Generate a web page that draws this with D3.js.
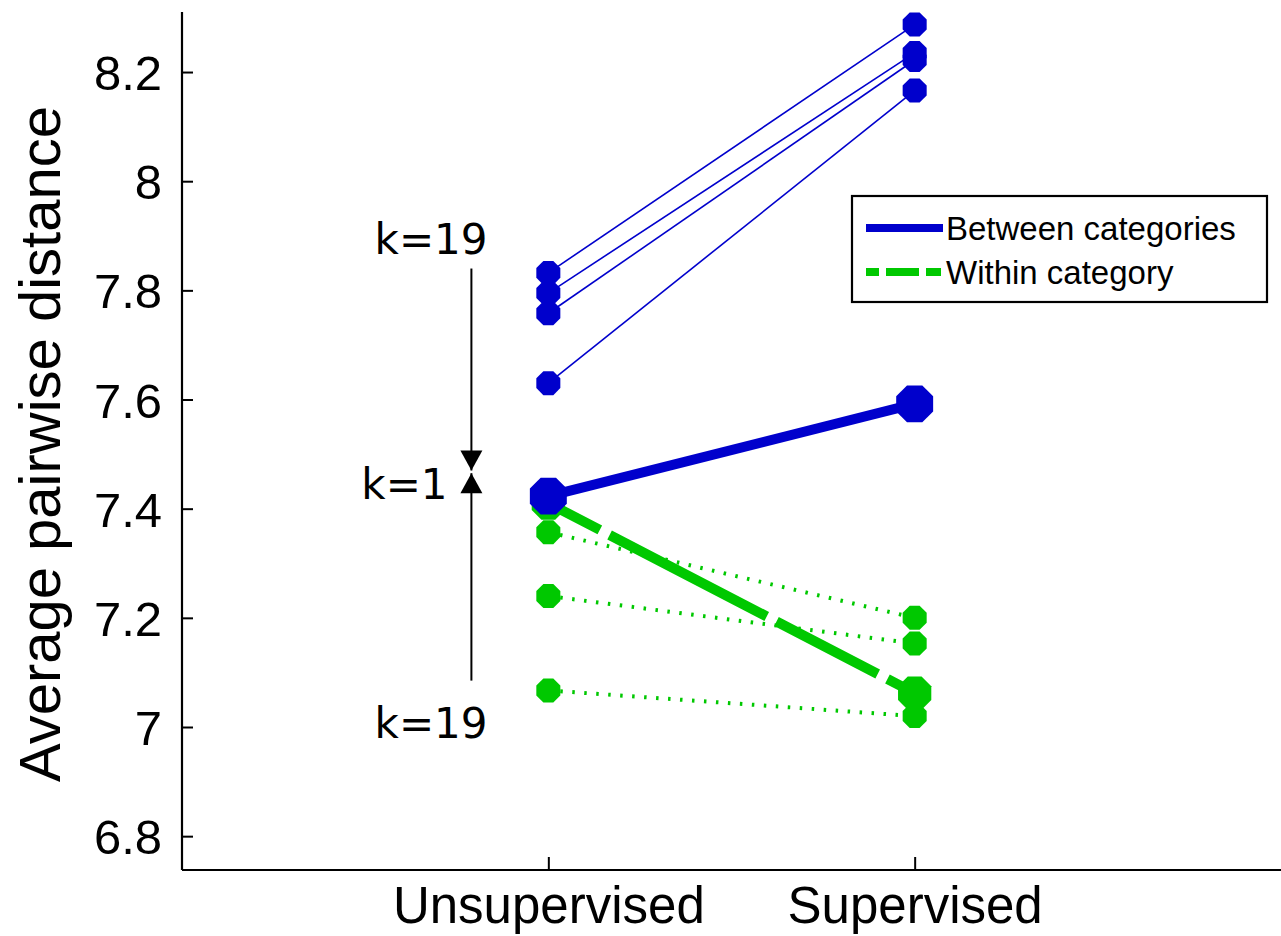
<!DOCTYPE html>
<html><head><meta charset="utf-8">
<script src="https://cdn.jsdelivr.net/npm/d3@7"></script>
<style>html,body{margin:0;padding:0;background:#fff;}</style>
</head><body>
<svg id="chart" width="1281" height="936"></svg>
<script>
// ---- data ----
const categories = ["Unsupervised", "Supervised"];
const categoryX = [1, 2];
const yTicks = [6.8, 7, 7.2, 7.4, 7.6, 7.8, 8, 8.2];
const yTickLabels = ["6.8", "7", "7.2", "7.4", "7.6", "7.8", "8", "8.2"];
// Between categories, individual k (unsupervised, supervised)
const betweenUnsup = [7.832, 7.795, 7.758, 7.630];
const betweenSup   = [8.287, 8.235, 8.222, 8.166];
const betweenMean  = [7.423, 7.592];
// Within category, individual k
const withinUnsup = [7.357, 7.240, 7.067];
const withinSup   = [7.200, 7.153, 7.020];
const withinMean  = [7.410, 7.062];
const legendLabels = ["Between categories", "Within category"];
const kLabels = ["k=19", "k=1", "k=19"];
const kLabelValues = [7.895, 7.445, 7.008];
const arrowTop = [7.84, 7.47];
const arrowBottom = [7.085, 7.465];
const arrowX = 0.79;

const blue = "#0000cc", green = "#00c800";
const svg = d3.select("#chart");
const x = d3.scaleLinear().domain([0, 3]).range([182, 1281]);
const y = d3.scaleLinear().domain([6.738, 8.31]).range([870, 12]);

// octagon path
function octagon(r) {
  const pts = d3.range(8).map(i => {
    const a = Math.PI / 8 + i * Math.PI / 4;
    return [r * Math.cos(a), r * Math.sin(a)];
  });
  return "M" + pts.map(p => p.join(",")).join("L") + "Z";
}

// axes
const yAxis = d3.axisLeft(y).tickValues(yTicks).tickFormat((d, i) => yTickLabels[i]).tickSize(-11).tickPadding(20);
const gy = svg.append("g").attr("transform", `translate(${x(0)},0)`).call(yAxis);
gy.select(".domain").attr("d", `M0,${y.range()[1]}V${y.range()[0]}`).attr("stroke", "#000").attr("stroke-width", 2.2);
gy.selectAll(".tick line").attr("stroke", "#000").attr("stroke-width", 2);
gy.selectAll(".tick text").attr("font-family", "Liberation Sans, Arial, sans-serif").attr("font-size", 49).attr("fill", "#000").attr("dy", "0.36em");

const xAxis = d3.axisBottom(x).tickValues(categoryX).tickFormat((d, i) => categories[i]).tickSize(-13).tickPadding(17);
const gx = svg.append("g").attr("transform", `translate(0,${y(6.738)})`).call(xAxis);
gx.select(".domain").attr("d", `M${x.range()[0]},0H${x.range()[1]}`).attr("stroke", "#000").attr("stroke-width", 2.2);
gx.selectAll(".tick line").attr("stroke", "#000").attr("stroke-width", 2);
gx.selectAll(".tick text").attr("font-family", "Liberation Sans, Arial, sans-serif").attr("font-size", 51).attr("fill", "#000").attr("dy", "0.71em");

// y label
svg.append("text").attr("transform", `translate(60,${(y(8.31) + y(6.738)) / 2 + 3}) rotate(-90)`)
  .attr("text-anchor", "middle").attr("font-family", "Liberation Sans, Arial, sans-serif")
  .attr("font-size", 58).text("Average pairwise distance");

// within category (green)
const gG = svg.append("g");
withinUnsup.forEach((v, i) => {
  gG.append("line").attr("x1", x(1)).attr("y1", y(v)).attr("x2", x(2)).attr("y2", y(withinSup[i]))
    .attr("stroke", green).attr("stroke-width", 4).attr("stroke-dasharray", "2.5,9.5");
});
gG.append("line").attr("x1", x(1)).attr("y1", y(withinMean[0])).attr("x2", x(2)).attr("y2", y(withinMean[1]))
  .attr("stroke", green).attr("stroke-width", 10).attr("stroke-dasharray", "58,11,177,11,114,11,200");
withinUnsup.forEach((v, i) => {
  gG.append("path").attr("d", octagon(13)).attr("transform", `translate(${x(1)},${y(v)})`).attr("fill", green);
  gG.append("path").attr("d", octagon(13)).attr("transform", `translate(${x(2)},${y(withinSup[i])})`).attr("fill", green);
});
withinMean.forEach((v, i) => {
  gG.append("path").attr("d", octagon(18)).attr("transform", `translate(${x(categoryX[i])},${y(v)})`).attr("fill", green);
});

// between categories (blue)
const gB = svg.append("g");
betweenUnsup.forEach((v, i) => {
  gB.append("line").attr("x1", x(1)).attr("y1", y(v)).attr("x2", x(2)).attr("y2", y(betweenSup[i]))
    .attr("stroke", blue).attr("stroke-width", 1.6);
});
gB.append("line").attr("x1", x(1)).attr("y1", y(betweenMean[0])).attr("x2", x(2)).attr("y2", y(betweenMean[1]))
  .attr("stroke", blue).attr("stroke-width", 10);
betweenUnsup.forEach((v, i) => {
  gB.append("path").attr("d", octagon(13)).attr("transform", `translate(${x(1)},${y(v)})`).attr("fill", blue);
  gB.append("path").attr("d", octagon(13)).attr("transform", `translate(${x(2)},${y(betweenSup[i])})`).attr("fill", blue);
});
betweenMean.forEach((v, i) => {
  gB.append("path").attr("d", octagon(20)).attr("transform", `translate(${x(categoryX[i])},${y(v)})`).attr("fill", blue);
});

// k annotation with arrows
const ga = svg.append("g");
function arrow(from, to) {
  ga.append("line").attr("x1", x(arrowX)).attr("y1", y(from)).attr("x2", x(arrowX)).attr("y2", y(to))
    .attr("stroke", "#000").attr("stroke-width", 2);
  const tipY = y(to), dir = y(to) > y(from) ? -1 : 1;
  ga.append("path").attr("d", `M${x(arrowX)},${tipY}L${x(arrowX) - 11},${tipY + dir * 20}L${x(arrowX) + 11},${tipY + dir * 20}Z`).attr("fill", "#000");
}
arrow(arrowTop[0], arrowTop[1]);
arrow(arrowBottom[0], arrowBottom[1]);
const kAnchor = ["middle", "end", "middle"];
const kX = [0.68, 0.725, 0.68];
kLabels.forEach((t, i) => {
  ga.append("text").attr("x", x(kX[i])).attr("y", y(kLabelValues[i])).attr("dy", "0.36em")
    .attr("text-anchor", kAnchor[i]).attr("font-family", "DejaVu Sans, sans-serif").attr("font-size", 42).text(t);
});

// legend
const lg = svg.append("g");
lg.append("rect").attr("x", 852).attr("y", 196).attr("width", 415).attr("height", 106)
  .attr("fill", "#fff").attr("stroke", "#000").attr("stroke-width", 2.2);
const legendColors = [blue, green];
const legendDash = [null, "13,7,33,7,15"];
legendLabels.forEach((t, i) => {
  const ly = 228 + i * 44;
  lg.append("line").attr("x1", 866).attr("x2", 943).attr("y1", ly).attr("y2", ly)
    .attr("stroke", legendColors[i]).attr("stroke-width", 8).attr("stroke-dasharray", legendDash[i]);
  lg.append("text").attr("x", 946).attr("y", ly).attr("dy", "0.36em").attr("font-family", "Liberation Sans, Arial, sans-serif")
    .attr("font-size", 33).text(t);
});
</script>
</body></html>
